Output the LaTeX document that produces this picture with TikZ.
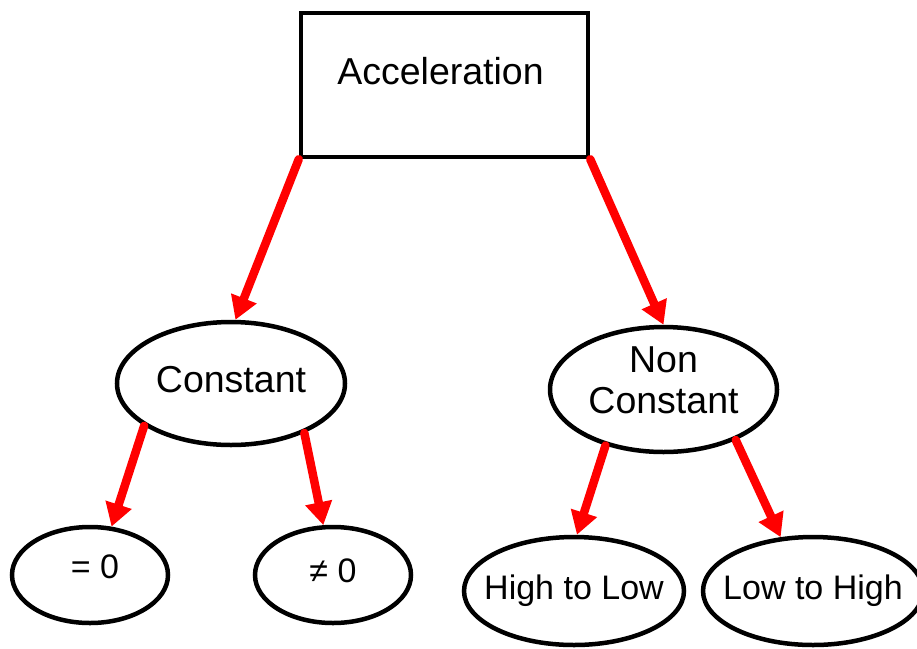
\documentclass[tikz,border=0pt]{standalone}
\usepackage{fontspec}
\setmainfont{Liberation Sans}
\usetikzlibrary{arrows.meta}
\usetikzlibrary{shapes.geometric}

\begin{document}
\begin{tikzpicture}[x=1pt,y=-1pt,
  font=\fontsize{37.5}{41}\selectfont,
  box/.style={draw,line width=4.5pt,rectangle,inner sep=0pt,text height=26pt,
    minimum width=287pt,minimum height=144pt},
  oval/.style={draw,line width=4.5pt,ellipse,inner sep=0pt,text height=26pt},
  leaf/.style={oval,font=\fontsize{34}{40}\selectfont,text height=24pt},
  link/.style={draw=red,line width=8.5pt,line cap=round,
    -{Triangle[length=23pt,width=26pt]}}]
\useasboundingbox (0,0) rectangle (917,648);
% top box
\node[box,text depth=28pt] (accel) at (444.5,85) {\makebox[0pt]{Acceleration\hspace{8pt}}};
% second level
\node[oval,minimum width=228pt,minimum height=123pt,text depth=9pt]
  (const) at (231,383.5) {Constant};
\node[oval,minimum width=227pt,minimum height=125pt,align=center,
  text height=67pt,text depth=20pt]
  (nonconst) at (663.5,389.5) {Non\\Constant};
% leaves
\node[leaf,minimum width=156pt,minimum height=96pt,text depth=18pt]
  (zero) at (90,575) {\makebox[0pt]{\hspace{10pt}= 0}};
\node[leaf,minimum width=156pt,minimum height=96pt,text depth=10pt]
  (nonzero) at (333,575) {≠ 0};
\node[leaf,minimum width=220pt,minimum height=108pt,text depth=8pt]
  (hilo) at (574,591) {\makebox[0pt]{High to Low}};
\node[leaf,minimum width=220pt,minimum height=108pt,text depth=8pt]
  (lohi) at (813,591) {\makebox[0pt]{Low to High}};
% arrows
\draw[link] (accel.south west) -- (const.86);
\draw[link] (accel.south east) -- (nonconst.90);
\draw[link] (const.206) -- (zero.66);
\draw[link] (const.326) -- (nonzero.101);
\draw[link] (nonconst.224) -- (hilo.87);
\draw[link] (nonconst.325) -- (lohi.121);
\end{tikzpicture}
\end{document}
